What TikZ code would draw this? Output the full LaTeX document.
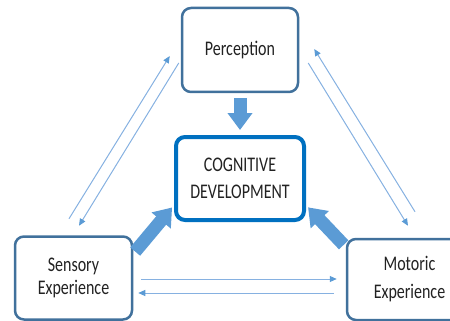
\documentclass[tikz,border=0pt]{standalone}
\usepackage{fontspec}
\setmainfont{Carlito}
\usepackage{graphicx}
\usetikzlibrary{arrows.meta,calc}

\definecolor{boxedge}{HTML}{41719C}
\definecolor{coreedge}{HTML}{0070C0}
\definecolor{arrowblue}{HTML}{5B9BD5}
\definecolor{lineblue}{HTML}{86B1E1}
\definecolor{textgray}{HTML}{222222}
\newcommand{\tallline}[1]{\scalebox{1}[1.3]{#1}}

\tikzset{
  outerbox/.style={draw=boxedge, line width=2.5pt, rounded corners=9pt, fill=white,
    align=center, text=textgray, inner sep=0pt},
  corebox/.style={draw=coreedge, line width=4pt, rounded corners=9pt, fill=white,
    align=center, text=textgray, inner sep=0pt},
  bigarrow/.style={arrowblue, line width=13pt, -{Triangle[length=17pt,width=24pt]}},
  thinarrow/.style={lineblue, line width=1pt, -{Triangle[length=7pt,width=6pt,color=arrowblue]}}
}

\begin{document}
\begin{tikzpicture}[x=1pt,y=-1pt]
\clip (0,0) rectangle (450,321);

% The four boxes
\node[outerbox, minimum width=116pt, minimum height=84pt, font=\fontsize{16}{18}\selectfont] (perc) at (240,50) {\tallline{Perception}};
\node[corebox, minimum width=128pt, minimum height=83pt, font=\fontsize{16}{27}\selectfont] (cog) at (240,178.5) {\tallline{COGNITIVE}\\\tallline{DEVELOPMENT}};
\node[outerbox, minimum width=117pt, minimum height=83pt, font=\fontsize{16}{23}\selectfont] (sens) at (73.5,278) {\tallline{Sensory}\\\tallline{Experience}};
\node[outerbox, minimum width=125pt, minimum height=81pt, font=\fontsize{16}{28}\selectfont] (mot) at (409.5,279.5) {\tallline{Motoric}\\\tallline{Experience}};

% Block arrows into the centre
\draw[bigarrow, shorten <=5pt, shorten >=5pt] (perc.south) -- (cog.north);
\draw[bigarrow, shorten <=3pt, shorten >=3pt] (sens.22) -- (cog.202);
\draw[bigarrow, shorten <=3pt, shorten >=3pt] (mot.153) -- (cog.338);

% Thin arrows (left side, then right side, then bottom)
\draw[thinarrow] ($(sens.north)+(-4.5,-16.5)$) -- ($(perc.west)+(-11,6)$);
\draw[thinarrow] ($(perc.west)+(-2,13)$) -- ($(sens.north)+(5.5,-9.5)$);

\draw[thinarrow] ($(mot.north)+(5.5,-26)$) -- ($(perc.east)+(15,-1)$);
\draw[thinarrow] ($(perc.east)+(9,13)$) -- ($(mot.north)+(-1.5,-12)$);

\draw[thinarrow] ($(sens.east)+(8,1)$) -- ($(mot.west)+(-9,-0.5)$);
\draw[thinarrow] ($(mot.west)+(-12,13.5)$) -- ($(sens.east)+(5,15)$);

\end{tikzpicture}
\end{document}
